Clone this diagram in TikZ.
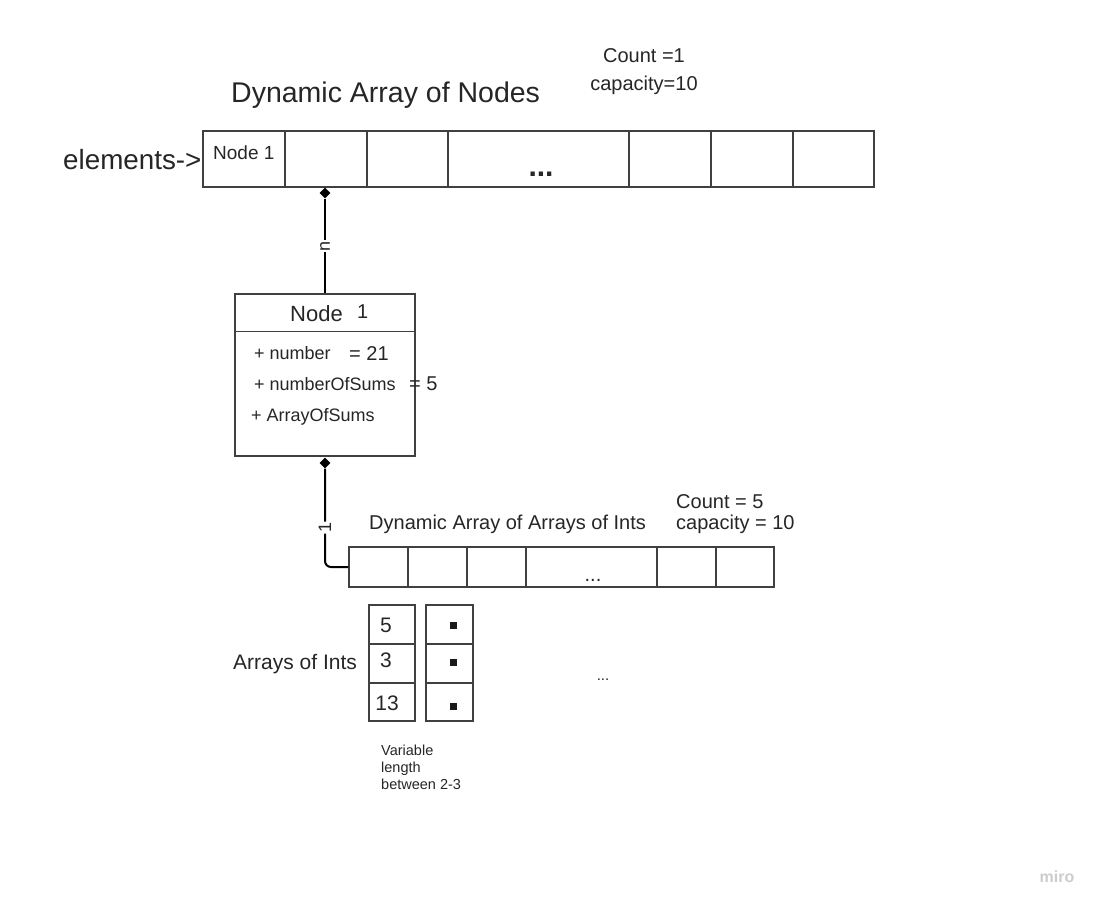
\documentclass[tikz,border=0pt]{standalone}
\usepackage{fontspec}
\setmainfont{Liberation Sans}
\usetikzlibrary{shapes.geometric}
\tikzset{
  fs/.style={font=\fontsize{#1}{#1}\selectfont},
  txt/.style={inner sep=0pt, text=black!85},
  cell/.style={draw=black!75, line width=1.3pt, rectangle, inner sep=0pt, minimum height=#1},
  conn/.style={draw=black, line width=2pt},
  dia/.style={diamond, fill=black, draw=none, inner sep=0pt, minimum width=11pt, minimum height=11pt},
  lab/.style={fill=white, inner sep=1pt, rotate=90, text=black!85, font=\fontsize{18}{20}\selectfont},
  sq/.style={fill=black!90, inner sep=0pt, minimum size=7pt}
}
\begin{document}
\begin{tikzpicture}[x=1pt,y=-1pt]
\useasboundingbox[fill=white] (0,0) rectangle (1101,908);

% titles
\node[txt,fs=28.5,anchor=west] (title) at (231,95) {Dynamic Array of Nodes};
\node[txt,fs=20] (cnt1) at (644,56) {Count =1};
\node[txt,fs=20] (cap1) at (644,85) {capacity=10};
\node[txt,fs=27.8,anchor=west] (elem) at (63,160) {elements->};

% top array
\node[cell=56pt,minimum width=82pt] (a1) at (244,159) {};
\node[cell=56pt,minimum width=82pt] (a2) at (326,159) {};
\node[cell=56pt,minimum width=81pt] (a3) at (407.5,159) {};
\node[cell=56pt,minimum width=181pt] (a4) at (538.5,159) {};
\node[cell=56pt,minimum width=82pt] (a5) at (670,159) {};
\node[cell=56pt,minimum width=82pt] (a6) at (752,159) {};
\node[cell=56pt,minimum width=81pt] (a7) at (833.5,159) {};
\node[txt,fs=19,anchor=west] (n1txt) at (213,153) {Node 1};
\node[txt,anchor=base,font=\fontsize{30}{30}\selectfont\bfseries] (dots1) at (541,176) {...};

% node box
\node[cell=162pt,minimum width=180pt] (nodebox) at (325,375) {};
\draw[draw=black!75, line width=1.3pt] ([yshift=-38pt]nodebox.north west) coordinate (hl) -- ([yshift=-38pt]nodebox.north east) coordinate (hr);
\node[txt,fs=22,anchor=west] (nodehd) at (290,314) {Node};
\node[txt,fs=20,anchor=west] (nodeone) at (357,312) {1};
\node[txt,fs=18,anchor=west] (att1) at (254,353) {+ number};
\node[txt,fs=20,anchor=west] (val1) at (349,354) {= 21};
\node[txt,fs=18,anchor=west] (att2) at (254,384) {+ numberOfSums};
\node[txt,fs=20,anchor=west] (val2) at (409,384) {= 5};
\node[txt,fs=18,anchor=west] (att3) at (251,417) {+ ArrayOfSums};

% connector 1
\node[dia] (d1) at (325,193) {};
\draw[conn] (d1.south) -- node[lab]{n} (nodebox.north);

% second array
\node[txt,fs=20,anchor=west] (title2) at (369,524) {Dynamic Array of Arrays of Ints};
\node[txt,fs=20,anchor=west] (cnt2) at (676,502) {Count = 5};
\node[txt,fs=20,anchor=west] (cap2) at (676,524) {capacity = 10};
\node[cell=40pt,minimum width=59pt] (b1) at (378.5,567) {};
\node[cell=40pt,minimum width=59pt] (b2) at (437.5,567) {};
\node[cell=40pt,minimum width=59pt] (b3) at (496.5,567) {};
\node[cell=40pt,minimum width=131pt] (b4) at (591.5,567) {};
\node[cell=40pt,minimum width=59pt] (b5) at (686.5,567) {};
\node[cell=40pt,minimum width=58pt] (b6) at (745,567) {};
\node[txt,fs=20,anchor=base] (dots2) at (593,581) {...};

% connector 2
\node[dia] (d2) at (325,463) {};
\draw[conn, rounded corners=6pt] (d2.south) -- node[lab,pos=0.6]{1} (d2.south |- b1.west) -- (b1.west);

% arrays of ints
\node[txt,fs=21,anchor=west] (aoi) at (233,664) {Arrays of Ints};
\node[cell=39pt,minimum width=46pt] (c11) at (392,624.5) {};
\node[cell=39pt,minimum width=46pt] (c12) at (392,663.5) {};
\node[cell=38pt,minimum width=46pt] (c13) at (392,702) {};
\node[cell=39pt,minimum width=47pt] (c21) at (449.5,624.5) {};
\node[cell=39pt,minimum width=47pt] (c22) at (449.5,663.5) {};
\node[cell=38pt,minimum width=47pt] (c23) at (449.5,702) {};
\node[txt,fs=21] (v1) at (386,625) {5};
\node[txt,fs=21] (v2) at (386,660) {3};
\node[txt,fs=21] (v3) at (387,703) {13};
\node[sq] (s1) at (453,625) {};
\node[sq] (s2) at (453,662) {};
\node[sq] (s3) at (453,706) {};
\node[txt,fs=15,anchor=base] (dots3) at (603,680) {...};
\node[txt,fs=14.5,anchor=base west] (var1) at (381,755) {Variable};
\node[txt,fs=14.5,anchor=base west] (var2) at (381,772) {length};
\node[txt,fs=14.5,anchor=base west] (var3) at (381,789) {between 2-3};

% logo
\node[inner sep=0pt, text=black!20, font=\fontsize{16}{18}\selectfont\bfseries] (miro) at (1057,877) {miro};
\end{tikzpicture}
\end{document}
